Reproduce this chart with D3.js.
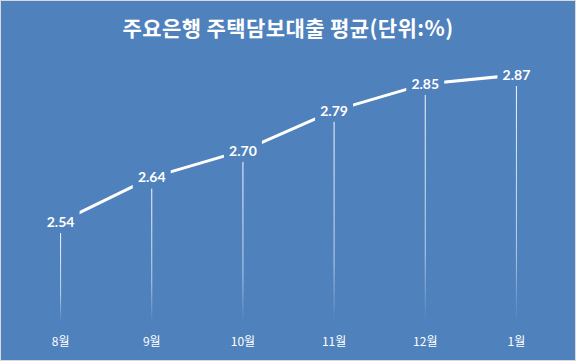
<!DOCTYPE html>
<html><head><meta charset="utf-8">
<script src="https://cdn.jsdelivr.net/npm/d3@7"></script>
<style>
html,body{margin:0;padding:0;background:#fff;}
svg{display:block;}
</style></head>
<body>
<svg id="c" width="576" height="361"></svg>
<script>
const title = "주요은행 주택담보대출 평균(단위:%)";
const categories = ["8월","9월","10월","11월","12월","1월"];
const values = [2.54, 2.64, 2.70, 2.79, 2.85, 2.87];
const labels = ["2.54","2.64","2.70","2.79","2.85","2.87"];

const W = 576, H = 361;
const bg = "#4f81bd";
const svg = d3.select("#c");

svg.append("rect").attr("x",0.5).attr("y",0.5).attr("width",W-1).attr("height",H-1)
  .attr("fill",bg).attr("stroke","#d9d9d9").attr("stroke-width",1);

const defs = svg.append("defs");
const grad = defs.append("linearGradient").attr("id","drop").attr("x1",0).attr("y1",0).attr("x2",0).attr("y2",1);
grad.append("stop").attr("offset","0%").attr("stop-color","#fff").attr("stop-opacity",0.95);
grad.append("stop").attr("offset","70%").attr("stop-color","#fff").attr("stop-opacity",0.6);
grad.append("stop").attr("offset","100%").attr("stop-color","#fff").attr("stop-opacity",0);

const x = d3.scaleBand().domain(categories).range([15, 562]);
const cx = c => x(c) + x.bandwidth()/2;
const y = d3.scaleLinear().domain([2.315, 2.87]).range([322, 75]);

svg.append("text").attr("x",288).attr("y",36).attr("text-anchor","middle")
  .attr("fill","#fff").attr("font-family","'Noto Sans CJK KR', sans-serif")
  .attr("font-weight","bold").attr("font-size",21).attr("letter-spacing",0.4).text(title);

const data = categories.map((c,i)=>({c, v:values[i], l:labels[i]}));

// drop lines
svg.selectAll(".drop").data(data).enter().append("rect")
  .attr("x", d=>cx(d.c)-0.5).attr("y", d=>y(d.v)+11)
  .attr("width",1).attr("height", d=>y.range()[0]-(y(d.v)+11))
  .attr("fill","url(#drop)");

// line
const line = d3.line().x(d=>cx(d.c)).y(d=>y(d.v));
svg.append("path").datum(data).attr("d",line).attr("fill","none")
  .attr("stroke","#fff").attr("stroke-width",3).attr("stroke-linejoin","round");

// labels
const g = svg.selectAll(".lab").data(data).enter().append("g")
  .attr("transform", d=>`translate(${cx(d.c)},${y(d.v)})`);
g.append("rect").attr("x",-19).attr("y",-11).attr("width",38).attr("height",22).attr("fill",bg);
g.append("text").attr("text-anchor","middle").attr("dy","0.36em")
  .attr("fill","#fff").attr("font-family","Lato, 'Open Sans', sans-serif")
  .attr("font-weight","bold").attr("font-size",14).text(d=>d.l);

// x labels
svg.selectAll(".xl").data(categories).enter().append("text")
  .attr("x", d=>cx(d)).attr("y",346).attr("text-anchor","middle")
  .attr("fill","#fff").attr("font-family","'Noto Sans CJK KR', sans-serif")
  .attr("font-size",12).text(d=>d);
</script>
</body></html>
